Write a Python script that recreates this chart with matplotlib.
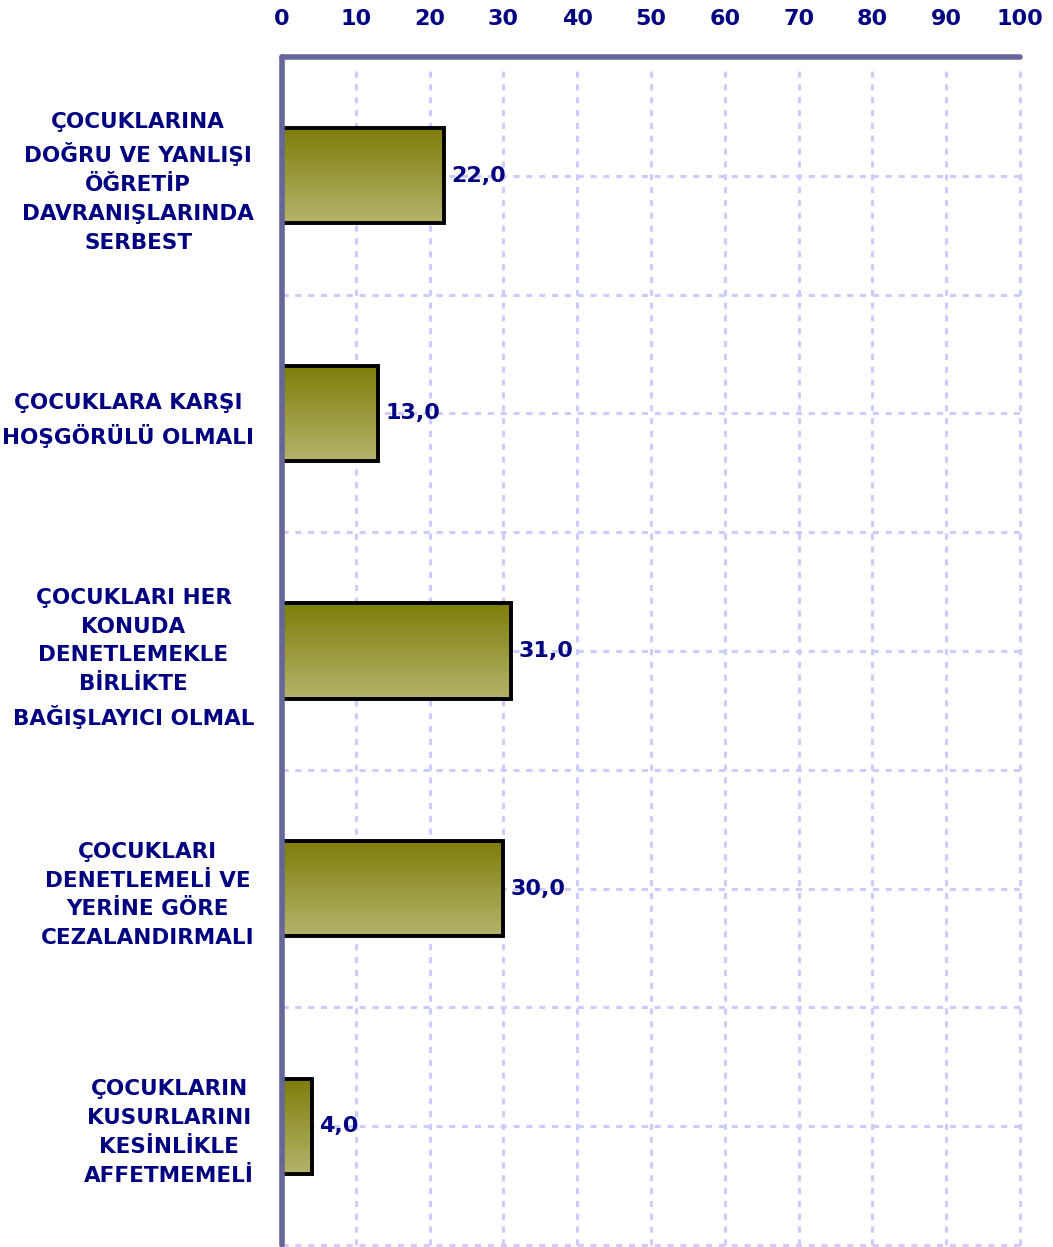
import numpy as np
import matplotlib
matplotlib.use("Agg")
import matplotlib.pyplot as plt
from matplotlib.colors import LinearSegmentedColormap

categories = [
    "ÇOCUKLARINA\nDOĞRU VE YANLIŞI\nÖĞRETİP\nDAVRANIŞLARINDA\nSERBEST",
    "ÇOCUKLARA KARŞI\nHOŞGÖRÜLÜ OLMALI",
    "ÇOCUKLARI HER\nKONUDA\nDENETLEMEKLE\nBİRLİKTE\nBAĞIŞLAYICI OLMAL",
    "ÇOCUKLARI\nDENETLEMELİ VE\nYERİNE GÖRE\nCEZALANDIRMALI",
    "ÇOCUKLARIN\nKUSURLARINI\nKESİNLİKLE\nAFFETMEMELİ",
]
values = [22.0, 13.0, 31.0, 30.0, 4.0]
xticks = list(range(0, 101, 10))

navy = "#000080"
grid_col = "#CCCCFF"
axis_col = "#666699"

fig = plt.figure(figsize=(10.53, 12.47), dpi=100)
ax = fig.add_axes([282 / 1053, 2 / 1247, 738 / 1053, 1188 / 1247])

ypos = np.arange(len(categories))
bars = ax.barh(ypos, values, height=0.4, facecolor="none",
               edgecolor="black", linewidth=2.8, zorder=4)

# olive gradient inside each bar
olive = LinearSegmentedColormap.from_list("olive", ["#7D7D0A", "#B4B46C"])
grad = np.linspace(0, 1, 256).reshape(-1, 1)
for b in bars:
    x0, y0 = b.get_x(), b.get_y()
    w, h = b.get_width(), b.get_height()
    ax.imshow(grad, cmap=olive, aspect="auto", zorder=3,
              extent=[x0, x0 + w, y0 + h, y0], interpolation="bilinear")

for y, v in zip(ypos, values):
    ax.text(v + 1.0, y, f"{v:.1f}".replace(".", ","), va="center", ha="left",
            color=navy, fontsize=16, fontweight="bold", zorder=5)

ax.set_xlim(0, 100)
ax.set_ylim(len(categories) - 0.5, -0.5)

ax.xaxis.tick_top()
ax.set_xticks(xticks)
ax.set_xticklabels([str(t) for t in xticks], color=navy, fontsize=16,
                   fontweight="bold")
ax.tick_params(axis="x", length=0, pad=20)

ax.set_yticks(ypos)
ax.set_yticklabels(categories, color=navy, fontsize=15.5, fontweight="bold",
                   multialignment="center", linespacing=1.55)
ax.tick_params(axis="y", length=0, pad=20)

# dashed grid: vertical at every 10, horizontal every half category
for t in xticks[1:]:
    ax.plot([t, t], [len(categories) - 0.5, -0.44], color=grid_col,
            lw=2.2, ls=(0, (2, 2.2)), zorder=1, clip_on=False)
for yy in np.arange(0, len(categories) + 0.01, 0.5):
    ax.plot([0, 100], [yy, yy], color=grid_col, lw=2.2, ls=(0, (2, 2.2)),
            zorder=1, clip_on=False)

for s in ["right", "bottom"]:
    ax.spines[s].set_visible(False)
for s in ["top", "left"]:
    ax.spines[s].set_color(axis_col)
    ax.spines[s].set_linewidth(4)
    ax.spines[s].set_capstyle("round")
    ax.spines[s].set_zorder(6)

fig.savefig("out.png", dpi=100)
